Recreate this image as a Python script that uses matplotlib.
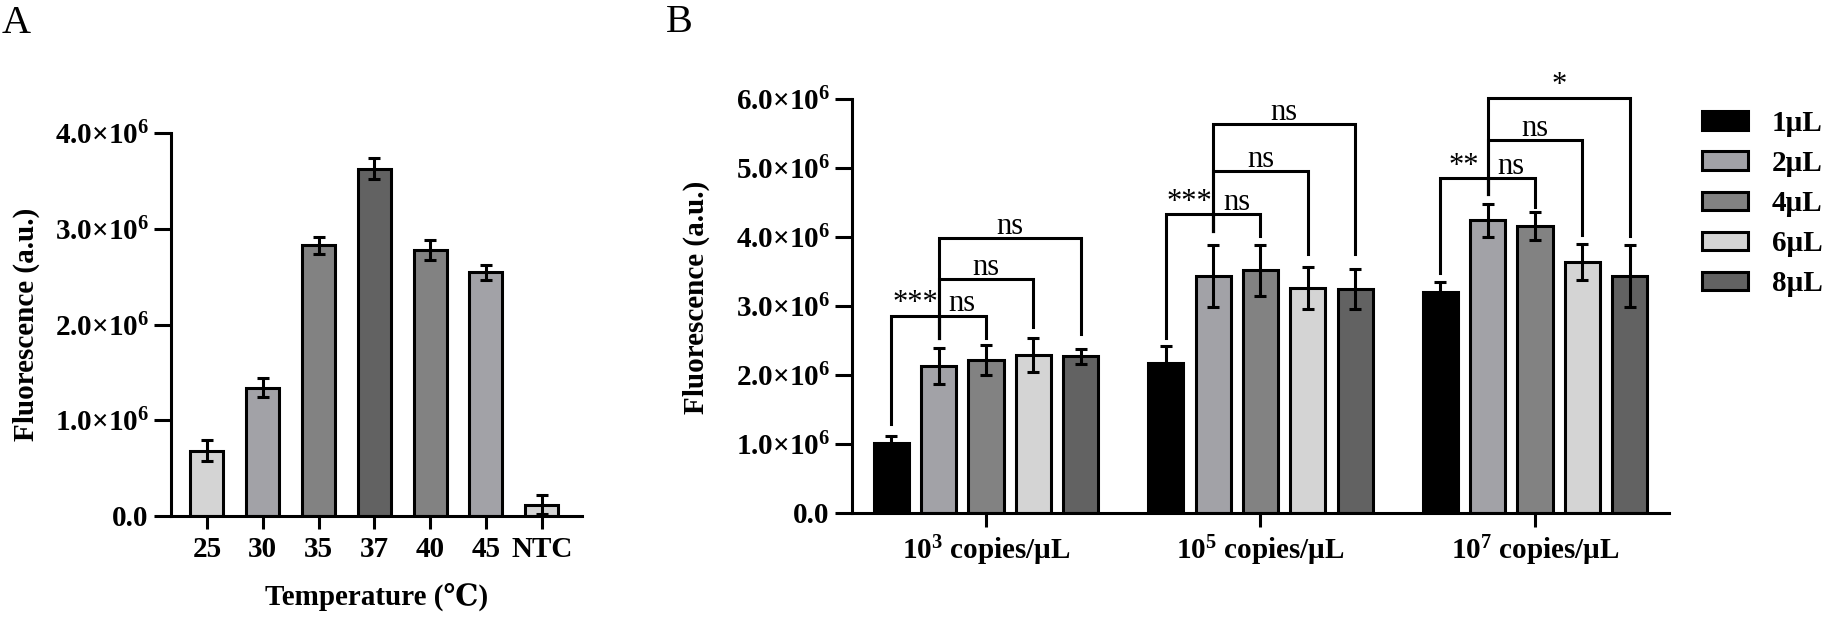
import matplotlib
matplotlib.use("Agg")
import matplotlib.pyplot as plt
import numpy as np

plt.rcParams['font.family'] = ['Liberation Serif', 'DejaVu Serif']
plt.rcParams['font.weight'] = 'bold'
plt.rcParams['mathtext.default'] = 'regular'

# ---- panel A: temperature ----
temps = ["25", "30", "35", "37", "40", "45", "NTC"]
temp_means = [0.68e6, 1.34e6, 2.83e6, 3.63e6, 2.78e6, 2.545e6, 0.12e6]
temp_errs = [0.11e6, 0.10e6, 0.09e6, 0.11e6, 0.10e6, 0.075e6, 0.10e6]
temp_colors = ["#d4d4d4", "#a2a2a7", "#828282", "#626262", "#828282", "#a2a2a7", "#d4d4d4"]

# ---- panel B: sample volume ----
groups = ["10$^{3}$ copies/µL", "10$^{5}$ copies/µL", "10$^{7}$ copies/µL"]
volumes = ["1µL", "2µL", "4µL", "6µL", "8µL"]
vol_colors = ["#000000", "#a2a2a7", "#828282", "#d4d4d4", "#626262"]
means_1ul = [1.01e6, 2.18e6, 3.21e6]
means_2ul = [2.13e6, 3.44e6, 4.24e6]
means_4ul = [2.22e6, 3.52e6, 4.16e6]
means_6ul = [2.29e6, 3.26e6, 3.64e6]
means_8ul = [2.27e6, 3.25e6, 3.43e6]
errs_1ul = [0.11e6, 0.24e6, 0.14e6]
errs_2ul = [0.26e6, 0.45e6, 0.235e6]
errs_4ul = [0.22e6, 0.37e6, 0.20e6]
errs_6ul = [0.24e6, 0.31e6, 0.26e6]
errs_8ul = [0.11e6, 0.29e6, 0.45e6]
vol_means = [means_1ul, means_2ul, means_4ul, means_6ul, means_8ul]
vol_errs = [errs_1ul, errs_2ul, errs_4ul, errs_6ul, errs_8ul]

# significance brackets: group, bar i, bar j, line height, leg end i, leg end j, label
brackets = [
    (0, 0, 1, 2.86e6, 1.29e6, 2.54e6, "***"),
    (0, 1, 2, 2.86e6, 2.54e6, 2.54e6, "ns"),
    (0, 1, 3, 3.39e6, 2.54e6, 2.70e6, "ns"),
    (0, 1, 4, 3.98e6, 2.54e6, 2.60e6, "ns"),
    (1, 0, 1, 4.33e6, 2.54e6, 4.08e6, "***"),
    (1, 1, 2, 4.33e6, 4.08e6, 4.01e6, "ns"),
    (1, 1, 3, 4.96e6, 4.08e6, 3.76e6, "ns"),
    (1, 1, 4, 5.64e6, 4.08e6, 3.76e6, "ns"),
    (2, 0, 1, 4.85e6, 3.48e6, 4.63e6, "**"),
    (2, 1, 2, 4.85e6, 4.63e6, 4.44e6, "ns"),
    (2, 1, 3, 5.40e6, 4.63e6, 4.03e6, "ns"),
    (2, 1, 4, 6.02e6, 4.63e6, 4.02e6, "*"),
]

LW = 2.2
FS = 21


def sci_label(v):
    if v == 0:
        return "0.0"
    return f"{v / 1e6:.1f}×10$^{{6}}$"


def style_axes(ax, xtick_len, ytick_len):
    for s in ["top", "right"]:
        ax.spines[s].set_visible(False)
    for s in ["left", "bottom"]:
        ax.spines[s].set_linewidth(LW)
    ax.tick_params(axis="x", length=xtick_len, width=LW, labelsize=FS, pad=5)
    ax.tick_params(axis="y", length=ytick_len, width=LW, labelsize=FS, pad=4)


fig = plt.figure(figsize=(18.26, 6.17), dpi=100)

# panel A
axA = fig.add_axes([0.0936, 0.1637, 0.2251, 0.6203])
xa = np.arange(len(temps))
axA.bar(xa, temp_means, width=0.59, color=temp_colors, edgecolor="black", linewidth=LW, zorder=2)
axA.errorbar(xa, temp_means, yerr=temp_errs, fmt="none", ecolor="black",
             elinewidth=LW, capsize=4, capthick=LW, zorder=3)
axA.set_xlim(-0.645, 6.72)
axA.set_ylim(0, 4e6)
yt = [0, 1e6, 2e6, 3e6, 4e6]
axA.set_yticks(yt)
axA.set_yticklabels([sci_label(v) for v in yt])
axA.set_xticks(xa)
axA.set_xticklabels(temps)
style_axes(axA, 9.5, 12)
axA.set_ylabel("Fluorescence (a.u.)", fontsize=FS, fontweight="bold")
axA.yaxis.set_label_coords(-0.319, 0.5)
axA.set_xlabel("Temperature (℃)", fontsize=FS, fontweight="bold")
axA.xaxis.set_label_coords(0.501, -0.175)

# panel B
axB = fig.add_axes([0.4666, 0.1686, 0.4474, 0.6709])
xg = np.arange(len(groups))
step = 0.1723
handles = []
for k, vol in enumerate(volumes):
    xs = xg + (k - 2) * step
    h = axB.bar(xs, vol_means[k], width=0.128, color=vol_colors[k], edgecolor="black",
                linewidth=LW, zorder=2, label=vol)
    axB.errorbar(xs, vol_means[k], yerr=vol_errs[k], fmt="none", ecolor="black",
                 elinewidth=LW, capsize=4, capthick=LW, zorder=3)
    handles.append(h)

for g, i, j, y, yi, yj, lab in brackets:
    x1 = g + (i - 2) * step
    x2 = g + (j - 2) * step
    axB.plot([x1, x1, x2, x2], [yi, y, y, yj], color="black", lw=LW,
             clip_on=False, zorder=4, solid_joinstyle="miter")
    axB.annotate(lab, ((x1 + x2) / 2, y), xytext=(0, 3), textcoords="offset points",
                 ha="center", va="baseline", fontsize=22, fontweight="normal",
                 annotation_clip=False)

axB.set_xlim(-0.488, 2.488)
axB.set_ylim(0, 6e6)
ytb = [0, 1e6, 2e6, 3e6, 4e6, 5e6, 6e6]
axB.set_yticks(ytb)
axB.set_yticklabels([sci_label(v) for v in ytb])
axB.set_xticks(xg)
axB.set_xticklabels(groups)
style_axes(axB, 10, 12)
axB.set_ylabel("Fluorescence (a.u.)", fontsize=FS, fontweight="bold")
axB.yaxis.set_label_coords(-0.174, 0.52)

fig.legend(handles, volumes, loc="upper left", bbox_to_anchor=(0.932, 0.822),
           frameon=False, prop={"size": FS, "weight": "bold"}, handlelength=1.6,
           handleheight=0.6, handletextpad=0.8, labelspacing=0.45,
           borderpad=0, borderaxespad=0)

# panel letters
fig.text(0.001, 0.9465, "A", fontsize=29, fontweight="normal", va="baseline")
fig.text(0.3647, 0.948, "B", fontsize=29, fontweight="normal", va="baseline")

fig.savefig("out.png", dpi=100)
